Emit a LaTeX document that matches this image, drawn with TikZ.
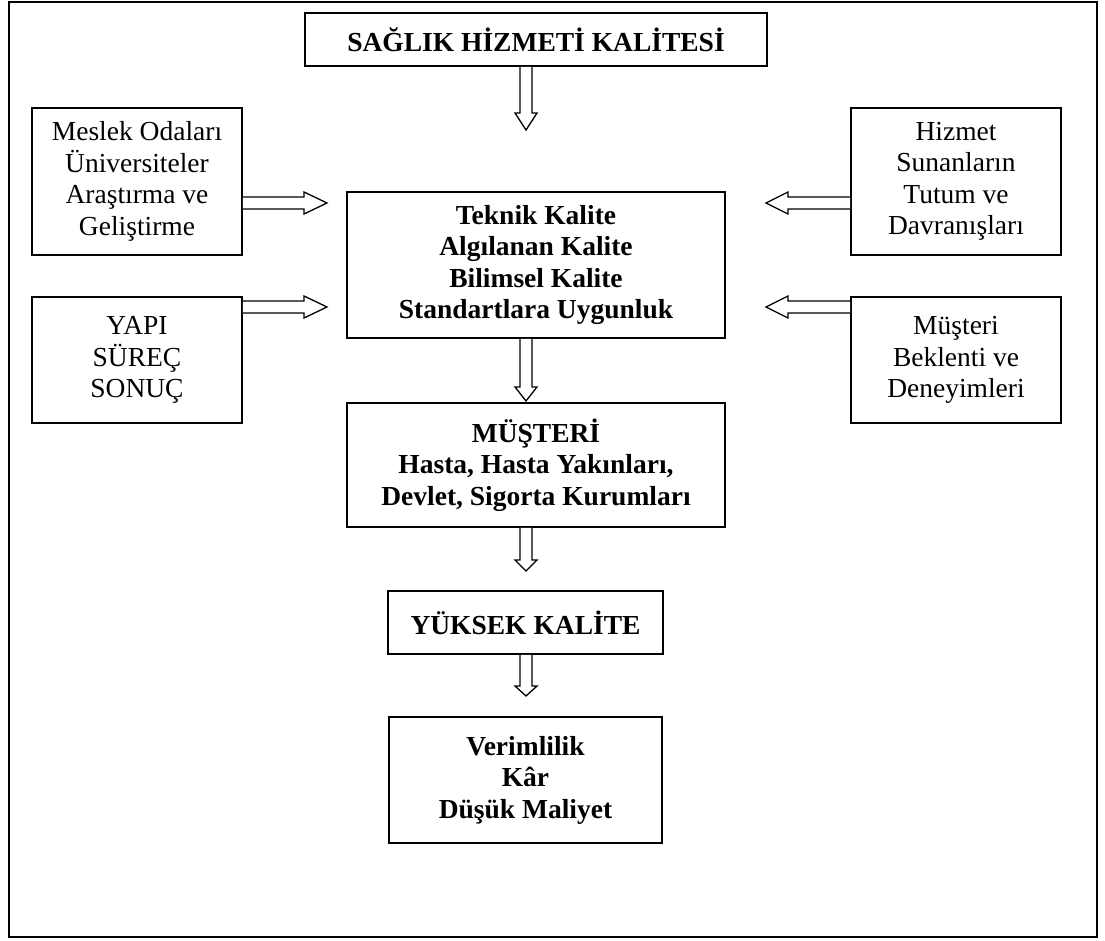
\documentclass[tikz,border=0pt]{standalone}
\usepackage{fontspec}
\setmainfont{Liberation Serif}
\usetikzlibrary{calc}
\tikzset{
  box/.style={draw, line width=1.6pt, inner sep=0pt, align=center,
    font=\fontsize{27.5}{31.5}\selectfont},
  boldbox/.style={box, font=\fontsize{27.5}{31.5}\selectfont\bfseries},
  blk/.style={draw, line width=1.3pt, fill=white, line join=miter},
  frame/.style={draw, line width=2.5pt}
}
\newcommand\varrowblk[3]{%
  \draw[blk] let \p1=(#1), \p2=(#2) in
    (\x2-6pt,\y1) -- (\x2-6pt,\y2+#3) -- (\x2-11pt,\y2+#3) -- (\x2,\y2)
    -- (\x2+11pt,\y2+#3) -- (\x2+6pt,\y2+#3) -- (\x2+6pt,\y1);}
\newcommand\harrowblk[3]{%
  \draw[blk] let \p1=(#1), \p2=(#2), \n1={#3} in
    (\x1,\y2+6pt) -- ({\x2+\n1},\y2+6pt) -- ({\x2+\n1},\y2+11pt) -- (\x2,\y2)
    -- ({\x2+\n1},\y2-11pt) -- ({\x2+\n1},\y2-6pt) -- (\x1,\y2-6pt);}
\begin{document}
\begin{tikzpicture}[x=1pt,y=-1pt]
\useasboundingbox (0,0) rectangle (1105,941);
\draw[frame] (9,2) rectangle (1097,937);

\node[boldbox, minimum width=462pt, minimum height=53pt] (title) at (536,39.5) {SAĞLIK HİZMETİ KALİTESİ};
\node[boldbox, minimum width=378pt, minimum height=146pt] (cen) at (536,265)
  {Teknik Kalite\\Algılanan Kalite\\Bilimsel Kalite\\Standartlara Uygunluk};
\node[boldbox, minimum width=378pt, minimum height=124pt] (mus) at (536,465)
  {MÜŞTERİ\\Hasta, Hasta Yakınları,\\Devlet, Sigorta Kurumları};
\node[boldbox, minimum width=275pt, minimum height=63pt] (yuk) at (525.5,622.5) {YÜKSEK KALİTE};
\node[boldbox, minimum width=273pt, minimum height=126pt] (ver) at (525.5,780)
  {Verimlilik\\Kâr\\Düşük Maliyet};

\node[box, minimum width=210pt, minimum height=147pt] (lb1) at (137,181.5)
  {Meslek Odaları\\Üniversiteler\\Araştırma ve\\Geliştirme};
\node[box, minimum width=210pt, minimum height=126pt] (lb2) at (137,360)
  {YAPI\\SÜREÇ\\SONUÇ};
\node[box, minimum width=210pt, minimum height=147pt] (rb1) at (956,181.5)
  {Hizmet\\Sunanların\\Tutum ve\\Davranışları};
\node[box, minimum width=210pt, minimum height=126pt] (rb2) at (956,360)
  {Müşteri\\Beklenti ve\\Deneyimleri};

\coordinate (a1) at (526,130);
\coordinate (a2) at (526,401);
\coordinate (a3) at (526,571);
\coordinate (a4) at (526,696);
\coordinate (l1) at (327,203);
\coordinate (l2) at (327,307);
\coordinate (r1) at (766,203);
\coordinate (r2) at (766,307);

\varrowblk{a1 |- title.south}{a1}{17pt}
\varrowblk{a2 |- cen.south}{a2}{14pt}
\varrowblk{a3 |- mus.south}{a3}{11pt}
\varrowblk{a4 |- yuk.south}{a4}{10pt}
\harrowblk{lb1.east |- l1}{l1}{-23pt}
\harrowblk{lb2.east |- l2}{l2}{-23pt}
\harrowblk{rb1.west |- r1}{r1}{22pt}
\harrowblk{rb2.west |- r2}{r2}{22pt}
\end{tikzpicture}
\end{document}
